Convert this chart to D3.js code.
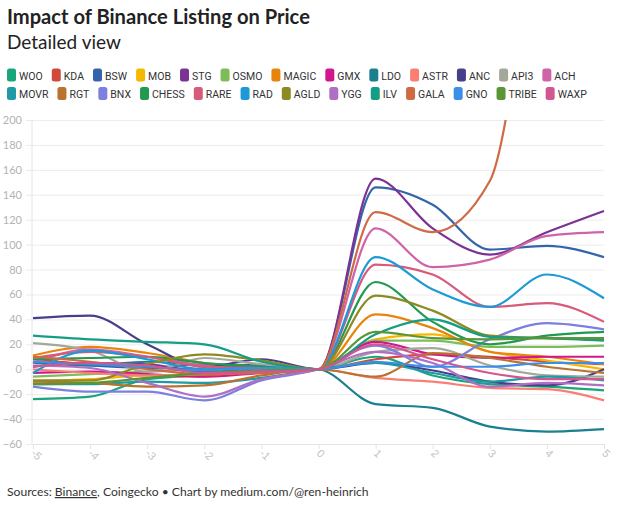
<!DOCTYPE html>
<html><head><meta charset="utf-8">
<script src="https://cdn.jsdelivr.net/npm/d3@7"></script>
<style>
body{margin:0;background:#fff;}
svg{display:block;font-family:Lato,'Open Sans',sans-serif;}
</style>
</head><body>
<svg id="chart" width="624" height="506"></svg>
<script>
// ---- data ----
const days = [-5,-4,-3,-2,-1,0,1,2,3,4,5];
const yTicks = [-60,-40,-20,0,20,40,60,80,100,120,140,160,180,200];
const xTickLabels = ["-5","-4","-3","-2","-1","0","1","2","3","4","5"];
const tokens = ["WOO","KDA","BSW","MOB","STG","OSMO","MAGIC","GMX","LDO","ASTR","ANC","API3","ACH",
                "MOVR","RGT","BNX","CHESS","RARE","RAD","AGLD","YGG","ILV","GALA","GNO","TRIBE","WAXP"];
const colors = ["#18a67a","#d04a3c","#3465aa","#f4b800","#7b3294","#7cbd5a","#e8830c","#d0178c","#1a7f8f","#fa7f72","#463f8a","#a4a899","#d063a8",
                "#1f9aa6","#b8732f","#7b7fe0","#21994f","#d85a7a","#1c9ad6","#8c8a24","#b06ec4","#149e85","#cf6a45","#3b8fe8","#5a9636","#d2568f"];

const WOO   = [-24,-22,-8,-5,-2,0,10,-5,-12,-14,-17];
const KDA   = [8,4,2,0,1,0,8,12,10,6,4];
const BSW   = [6,3,1,4,3,0,146,132,96,99,90];
const MOB   = [-10,-8,-5,-6,-2,0,24,28,14,7,0];
const STG   = [2,5,4,-2,0,0,153,113,92,110,127];
const OSMO  = [-6,-4,-2,0,1,0,23,23,18,18,19];
const MAGIC = [11,18,13,5,2,0,44,33,14,10,4];
const GMX   = [-3,-2,-4,-6,-3,0,22,12,9,10,10];
const LDO   = [5,3,6,3,2,0,-28,-31,-46,-50,-48];
const ASTR  = [0,-3,-5,-4,-2,0,-7,-10,-15,-16,-25];
const ANC   = [41,43,20,2,8,0,5,-1,-10,-13,0];
const API3  = [21,15,-2,9,4,0,14,17,3,-5,-6];
const ACH   = [5,16,10,3,0,0,113,82,88,107,110];
const MOVR  = [-12,-12,-10,-11,-7,0,5,-3,-10,-6,-9];
const RGT   = [-10,-11,-14,-13,-5,0,-6,13,9,2,-3];
const BNX   = [-14,-18,-18,-25,-9,0,19,2,24,37,32];
const CHESS = [8,9,10,5,2,0,70,38,20,27,30];
const RARE  = [9,14,10,2,1,0,84,76,50,53,38];
const RAD   = [-3,15,8,0,1,0,90,64,50,76,57];
const AGLD  = [-9,-9,4,12,7,0,59,47,27,25,24];
const YGG   = [3,1,-11,-22,-8,0,14,5,-14,-11,-13];
const ILV   = [27,24,22,20,6,0,28,40,26,25,23];
const GALA  = [10,6,0,-4,-3,0,126,110,151,400,500];
const GNO   = [6,4,2,-1,1,0,6,2,2,5,5];
const TRIBE = [-12,-11,-7,-3,-1,0,30,25,24,25,25];
const WAXP  = [2,5,3,-3,-2,0,20,8,-3,-8,-8];
const seriesValues = [WOO,KDA,BSW,MOB,STG,OSMO,MAGIC,GMX,LDO,ASTR,ANC,API3,ACH,
                      MOVR,RGT,BNX,CHESS,RARE,RAD,AGLD,YGG,ILV,GALA,GNO,TRIBE,WAXP];

// ---- layout ----
const svg = d3.select("#chart");
const L = 33, R = 604, T = 120, B = 444;
const x = d3.scaleLinear().domain([-5,5]).range([L,R]);
const y = d3.scaleLinear().domain([-60,200]).range([B,T]);

function fit(sel, target, base){ const w = sel.node().getComputedTextLength(); sel.attr("font-size", base*target/w); }

// title
const title = svg.append("text").attr("x",7).attr("y",24)
  .attr("font-size",20).attr("font-weight",700).attr("fill","#222")
  .text("Impact of Binance Listing on Price");
fit(title, 303, 20);
const sub = svg.append("text").attr("x",7).attr("y",49)
  .attr("font-size",19).attr("fill","#222").text("Detailed view");
fit(sub, 114, 19);

// legend: font size chosen so the first row spans the same width as the reference
const legendFamily = "'Liberation Sans Narrow','Roboto',Lato,sans-serif";
const rows = [tokens.slice(0,13), tokens.slice(13)];
const baseFont = 12.5, swW = 9, txtOff = 12, itemGap = 9;
const probe = svg.append("text").attr("font-size",baseFont).attr("font-family",legendFamily);
let sumW = 0;
rows[0].forEach(n => { probe.text(n); sumW += probe.node().getComputedTextLength(); });
probe.remove();
const fixed = rows[0].length*txtOff + (rows[0].length-1)*itemGap;
const legendFont = Math.min(13, baseFont * (576 - 7 - fixed) / sumW);
const lg = svg.append("g");
rows.forEach((row, ri) => {
  let cx = 7;
  const cy = 75 + ri*18.5;
  row.forEach(name => {
    const i = tokens.indexOf(name);
    lg.append("rect").attr("x",cx).attr("y",cy-6.5).attr("width",swW).attr("height",13)
      .attr("rx",2.5).attr("fill",colors[i]);
    const t = lg.append("text").attr("x",cx+txtOff).attr("y",cy+4.5)
      .attr("font-size",legendFont).attr("font-family",legendFamily).attr("fill","#333").text(name);
    cx += txtOff + t.node().getComputedTextLength() + itemGap;
  });
});

// y grid + axis
const yAxis = svg.append("g").attr("transform",`translate(${L-1},0)`)
  .call(d3.axisLeft(y).tickValues(yTicks).tickSize(0).tickPadding(10));
yAxis.select(".domain").remove();
yAxis.selectAll(".tick text").attr("fill","#b3b3b3").attr("font-size",11).attr("font-family","Lato,sans-serif");
yAxis.selectAll(".tick").append("line").attr("x1",-6).attr("x2",R-L+1).attr("stroke","#ececec").attr("stroke-width",1);
svg.append("line").attr("x1",L-1).attr("x2",L-1).attr("y1",T).attr("y2",B).attr("stroke","#e4e4e4");

// x axis
const xAxis = svg.append("g").attr("transform",`translate(0,${B})`)
  .call(d3.axisBottom(x).tickValues(days).tickFormat((d,i)=>xTickLabels[i]).tickSize(5).tickSizeOuter(0));
xAxis.select(".domain").attr("stroke","#e4e4e4");
xAxis.selectAll(".tick line").attr("stroke","#e4e4e4");
xAxis.selectAll(".tick text").attr("fill","#c4c4c4").attr("font-size",11)
  .attr("text-anchor","start").attr("dy",0).attr("y",0)
  .attr("transform","translate(-3,10) rotate(45)");

// lines
svg.append("clipPath").attr("id","clip").append("rect")
  .attr("x",L-2).attr("y",T).attr("width",R-L+4).attr("height",B-T+2);
const line = d3.line().x(d=>x(d.day)).y(d=>y(d.v)).curve(d3.curveMonotoneX);
const lines = svg.append("g").attr("clip-path","url(#clip)");
seriesValues.forEach((vals, i) => {
  const pts = days.map((d,j)=>({day:d, v:vals[j]}));
  lines.append("path").datum(pts).attr("d",line).attr("fill","none")
    .attr("stroke",colors[i]).attr("stroke-width",2.2).attr("stroke-linejoin","round");
});

// footer
const foot = svg.append("text").attr("x",7).attr("y",496).attr("font-size",12).attr("fill","#333");
foot.append("tspan").text("Sources: ");
foot.append("tspan").attr("text-decoration","underline").text("Binance");
foot.append("tspan").text(", Coingecko • Chart by medium.com/@ren-heinrich");
fit(foot, 362, 12);
</script>
</body></html>
